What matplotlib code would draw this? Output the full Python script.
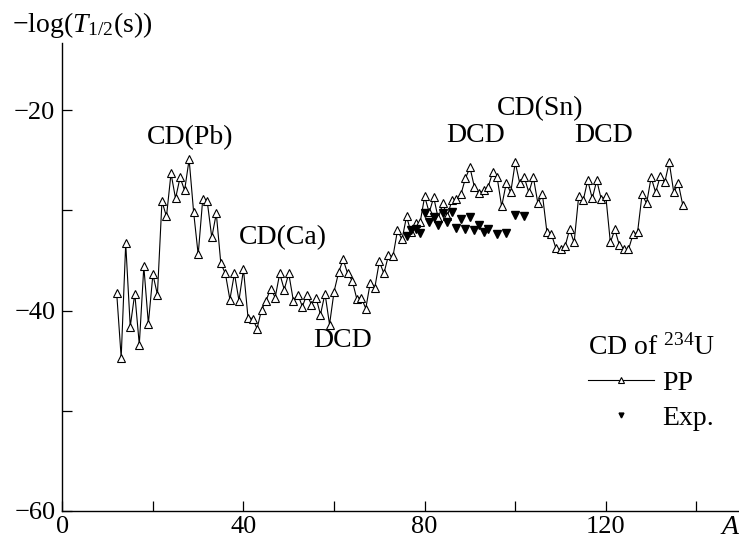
import matplotlib
matplotlib.use("Agg")
import matplotlib.pyplot as plt
from matplotlib.lines import Line2D

plt.rcParams['font.family'] = ['Liberation Serif', 'DejaVu Serif']
plt.rcParams['mathtext.fontset'] = 'custom'
plt.rcParams['mathtext.rm'] = 'Liberation Serif'
plt.rcParams['mathtext.it'] = 'Liberation Serif:italic'

# PP calculation, A = 12 .. 137
pp_A = list(range(12, 138))
pp_val = [
    -38.2, -44.7, -33.3, -41.6, -38.3, -43.4, -35.6, -41.3, -36.4, -38.4,   # 12-21
    -29.1, -30.6, -26.3, -28.8, -26.7, -28.0, -24.9, -30.2, -34.4, -28.9,   # 22-31
    -29.1, -32.7, -30.3, -35.3, -36.3, -38.9, -36.3, -39.0, -35.9, -40.7,   # 32-41
    -40.8, -41.8, -39.9, -39.0, -37.8, -38.7, -36.3, -37.9, -36.3, -39.0,   # 42-51
    -38.4, -39.6, -38.4, -39.4, -38.7, -40.4, -38.3, -41.4, -38.1, -36.2,   # 52-61
    -34.9, -36.3, -37.0, -38.8, -38.7, -39.8, -37.2, -37.7, -35.1, -36.3,   # 62-71
    -34.5, -34.6, -32.0, -32.9, -30.6, -32.2, -31.3, -31.2, -28.6, -30.2,   # 72-81
    -28.7, -30.8, -29.3, -30.6, -29.0, -28.9, -28.4, -26.8, -25.7, -27.7,   # 82-91
    -28.3, -28.0, -27.7, -26.2, -26.7, -29.6, -27.3, -28.2, -25.2, -27.3,   # 92-101
    -26.7, -28.2, -26.7, -29.3, -28.4, -32.2, -32.4, -33.8, -33.9, -33.6,   # 102-111
    -31.9, -33.2, -28.6, -29.0, -27.0, -28.8, -27.0, -28.9, -28.6, -33.2,   # 112-121
    -31.9, -33.5, -33.9, -33.9, -32.4, -32.2, -28.4, -29.3, -26.7, -28.2,   # 122-131
    -26.6, -27.2, -25.2, -28.2, -27.3, -29.5,                               # 132-137
]

# Experimental values
exp_A = [76, 77, 78, 79, 80, 81, 82, 83, 84, 85, 86, 87, 88, 89, 90, 91, 92,
         93, 94, 96, 98, 100, 102]
exp_val = [-32.6, -32.0, -31.9, -32.3, -30.3, -31.2, -30.7, -31.5, -30.3,
           -31.2, -30.2, -31.8, -30.9, -31.9, -30.7, -32.0, -31.5, -32.2,
           -31.9, -32.4, -32.3, -30.5, -30.6]

annotations = [("CD(Pb)", 28.2, -22.7), ("CD(Ca)", 48.7, -32.7),
               ("DCD", 61.8, -43.0), ("DCD", 91.3, -22.5),
               ("CD(Sn)", 105.5, -19.8), ("DCD", 119.6, -22.5)]

x_major = [0, 40, 80, 120]
x_minor = [20, 60, 100, 140]
y_major = [-60, -40, -20]
y_minor = [-50, -30]

fig = plt.figure(figsize=(7.39, 5.44), dpi=100)
L, B = 62.3 / 739, 1 - 510.7 / 544
ax = fig.add_axes([L, B, 1 - L, (510.7 - 43.3) / 544])

ax.plot(pp_A, pp_val, color='black', lw=0.8, marker='^', ms=5.5,
        mfc='white', mec='black', mew=0.8, zorder=2)
ax.plot(exp_A, exp_val, ls='none', marker='v', ms=6, mfc='black',
        mec='black', zorder=3)

for txt, x, y in annotations:
    ax.text(x, y, txt, fontsize=20, ha='center', va='center')

ax.set_xlim(0, 149.4)
ax.set_ylim(-60, -13.3)
ax.set_xticks(x_major)
ax.set_xticks(x_minor, minor=True)
ax.set_yticks(y_major)
ax.set_yticks(y_minor, minor=True)
ax.tick_params(which='both', direction='in', length=7, width=0.9,
               labelsize=19)
ax.tick_params(axis='x', which='both', pad=4)
ax.tick_params(axis='y', which='both', pad=5)
for s in ['top', 'right']:
    ax.spines[s].set_visible(False)
for s in ['left', 'bottom']:
    ax.spines[s].set_linewidth(1.0)

handles = [Line2D([], [], color='black', lw=0.8, marker='^', ms=4,
                  mfc='white', mec='black', mew=0.8),
           Line2D([], [], ls='none', marker='v', ms=3.5, mfc='black',
                  mec='black')]
leg = ax.legend(handles, ['PP', 'Exp.'], title="CD of $^{234}$U",
                frameon=False, fontsize=20, title_fontsize=20,
                loc='upper left', bbox_to_anchor=(0.768, 0.39),
                handlelength=2.4, handletextpad=0.3, labelspacing=0.35,
                borderaxespad=0, borderpad=0.2)

fig.text(12 / 739, 1 - 25 / 544, "$-$log($T_{\\mathrm{1/2}}$(s))",
         fontsize=20, ha='left', va='center')
fig.text(730 / 739, 1 - 527 / 544, "A", fontsize=20, style='italic',
         ha='center', va='center')

fig.savefig("out.png", dpi=100)
